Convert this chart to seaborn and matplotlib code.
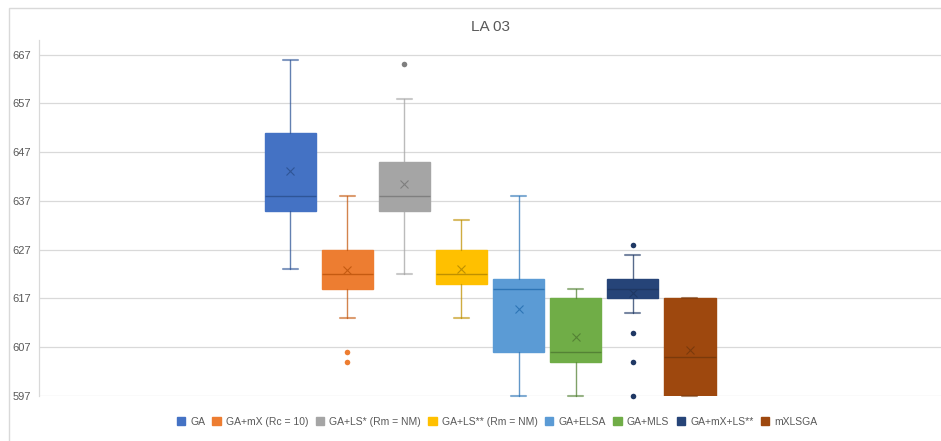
import matplotlib
matplotlib.use("Agg")
import matplotlib.pyplot as plt
import matplotlib.patches as mpatches
import seaborn as sns

# summary values (LA 03)
labels = ["GA", "GA+mX (Rc = 10)", "GA+LS* (Rm = NM)", "GA+LS** (Rm = NM)",
          "GA+ELSA", "GA+MLS", "GA+mX+LS**", "mXLSGA"]
whislo = [623, 613, 622, 613, 597, 597, 614, 597]
q1 = [635, 619, 635, 620, 606, 604, 617, 597]
med = [638, 622, 638, 622, 619, 606, 619, 605]
q3 = [651, 627, 645, 627, 621, 617, 621, 617]
whishi = [666, 638, 658, 633, 638, 619, 626, 617]
means = [643.2, 622.9, 640.5, 623.0, 614.8, 609.2, 618.1, 606.4]
fliers = [[], [606, 604], [665], [], [], [], [628, 610, 604, 597], []]
yticks = [597, 607, 617, 627, 637, 647, 657, 667]

colors = ["#4472C4", "#ED7D31", "#A5A5A5", "#FFC000",
          "#5B9BD5", "#70AD47", "#264478", "#9E480E"]
dark = ["#2F5597", "#C55A11", "#7F7F7F", "#BF9000",
        "#2E75B6", "#548235", "#1F3864", "#7B3A0B"]

sns.set_theme(style="white")
plt.rcParams["font.family"] = ["Liberation Sans Narrow", "Liberation Sans", "DejaVu Sans"]

fig = plt.figure(figsize=(9.41, 4.41), dpi=100)
ax = fig.add_axes([39 / 941, 1 - 396 / 441, 902 / 941, 356 / 441])

# chart border
fig.patches.append(mpatches.Rectangle((9 / 941, -0.1), 1.2, 1 - 8 / 441 + 0.1,
                                      transform=fig.transFigure, fill=False,
                                      edgecolor="#D9D9D9", lw=1, zorder=0))

for i, lab in enumerate(labels):
    st = dict(label=lab, whislo=whislo[i], q1=q1[i], med=med[i], q3=q3[i],
              whishi=whishi[i], mean=means[i], fliers=fliers[i])
    res = ax.bxp([st], positions=[i], widths=0.91, capwidths=0.27,
                 showmeans=True, patch_artist=True, manage_ticks=False,
                 boxprops=dict(facecolor=colors[i], edgecolor=colors[i], lw=1),
                 medianprops=dict(color=dark[i], lw=1),
                 whiskerprops=dict(color=dark[i] if i != 2 else "#A5A5A5", lw=1, alpha=0.75),
                 capprops=dict(color=dark[i] if i != 2 else "#A5A5A5", lw=1.5, alpha=0.6),
                 meanprops=dict(marker="x", markeredgecolor=dark[i], markersize=6,
                                markeredgewidth=0.8),
                 flierprops=dict(marker="o", markerfacecolor=dark[i] if i != 1 else colors[i],
                                 markeredgecolor="none", markersize=4))
    for art in res["fliers"] + res["caps"] + res["whiskers"]:
        art.set_clip_on(False)

ax.set_xlim(3.5 - 7.91, 3.5 + 7.91)
ax.set_ylim(597, 670)
ax.set_yticks(yticks)
ax.set_xticks([])
ax.yaxis.grid(True, color="#D9D9D9", lw=0.9)
ax.set_axisbelow(True)
ax.tick_params(axis="y", labelsize=8, labelcolor="#595959", length=0, pad=6)
for s in ["top", "right", "bottom"]:
    ax.spines[s].set_visible(False)
ax.spines["left"].set_color("#D9D9D9")
ax.spines["left"].set_linewidth(0.9)

fig.text(490 / 941, 1 - 27 / 441, "LA 03", ha="center", va="center",
         fontsize=11, color="#595959")

handles = [mpatches.Patch(facecolor=c, edgecolor=c, label=l) for c, l in zip(colors, labels)]
fig.legend(handles=handles, loc="center", bbox_to_anchor=(497 / 941, 1 - 422 / 441),
           ncol=8, frameon=False, fontsize=7.5, handlelength=0.8, handleheight=0.8,
           handletextpad=0.5, columnspacing=0.7, labelcolor="#595959")

fig.savefig("out.png", dpi=100)
